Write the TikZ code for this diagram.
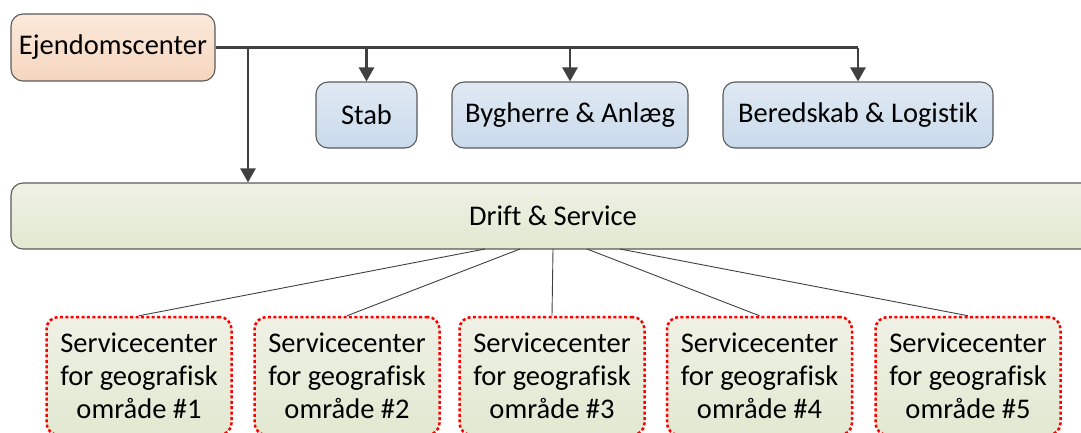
\documentclass[tikz,border=0pt]{standalone}
\usepackage{fontspec}
\setmainfont[Ligatures=NoCommon]{Carlito}
\usetikzlibrary{arrows.meta}
\definecolor{peachtop}{HTML}{FBE9DB}
\definecolor{peachbot}{HTML}{F5D6BE}
\definecolor{bluetop}{HTML}{E0E9F3}
\definecolor{bluebot}{HTML}{C9DAEB}
\definecolor{greentop}{HTML}{EFF1E5}
\definecolor{greenbot}{HTML}{E2E8D1}
\definecolor{edge}{HTML}{5A5A5A}
\definecolor{link}{HTML}{404040}
\tikzset{
  x=1pt, y=-1pt,
  every node/.style={font=\fontsize{28.5}{33}\selectfont, text=black, inner sep=0pt, align=center},
  boxbase/.style={rounded corners=12pt, draw=edge, line width=1.1pt},
  headbox/.style={boxbase, top color=peachtop, bottom color=peachbot},
  unitbox/.style={boxbase, top color=bluetop, bottom color=bluebot, minimum height=66pt},
  opsbox/.style={boxbase, top color=greentop, bottom color=greenbot, minimum height=66pt},
  areabox/.style={rounded corners=12pt, draw=red, line width=2.5pt, dash pattern=on 3pt off 2.4pt,
    top color=greentop, bottom color=greenbot, minimum width=185pt, minimum height=118pt},
  feed/.style={draw=link, line width=2.6pt},
  feedarrow/.style={feed, -{Triangle[width=15pt,length=14pt]}},
  thin/.style={draw=link, line width=0.9pt}
}
\begin{document}
\begin{tikzpicture}
\useasboundingbox (0,0) rectangle (1081,432);
\clip (0,0) rectangle (1081,432);

% top level
\node[headbox, minimum width=204pt, minimum height=67pt] (ejd) at (113,47.5) {Ejendomscenter};

% staff units
\node[unitbox, minimum width=101pt] (stab) at (366.5,115) {Stab};
\node[unitbox, minimum width=236pt] (byg) at (570,115) {Bygherre \& Anlæg};
\node[unitbox, minimum width=270pt] (ber) at (858,115) {Beredskab \& Logistik};

% operations
\node[opsbox, minimum width=1084pt] (drift) at (553,216) {Drift \& Service};

% geographic service centres
\node[areabox] (s1) at (139,376) {Servicecenter\\for geografisk\\område \#1};
\node[areabox] (s2) at (347,376) {Servicecenter\\for geografisk\\område \#2};
\node[areabox] (s3) at (552,376) {Servicecenter\\for geografisk\\område \#3};
\node[areabox] (s4) at (759.5,376) {Servicecenter\\for geografisk\\område \#4};
\node[areabox] (s5) at (968,376) {Servicecenter\\for geografisk\\område \#5};

% main feed line and its branches
\coordinate (jd) at (248,47.5);
\coordinate (jend) at (858,47.5);
\draw[feed] (ejd.east) -- (jend);
\draw[feedarrow] (jd) -- (jd |- drift.north);
\draw[feedarrow] (stab.north |- jend) -- (stab.north);
\draw[feedarrow] (byg.north |- jend) -- (byg.north);
\draw[feedarrow] (jend) -- (ber.north);

% links from operations to the service centres
\coordinate (d1) at (485,249);
\coordinate (d2) at (520,249);
\coordinate (d3) at (553,249);
\coordinate (d4) at (587,249);
\coordinate (d5) at (620,249);
\draw[thin] (d1) -- (s1.north);
\draw[thin] (d2) -- (s2.north);
\draw[thin] (d3) -- (s3.north);
\draw[thin] (d4) -- (s4.north);
\draw[thin] (d5) -- (s5.north);
\end{tikzpicture}
\end{document}
